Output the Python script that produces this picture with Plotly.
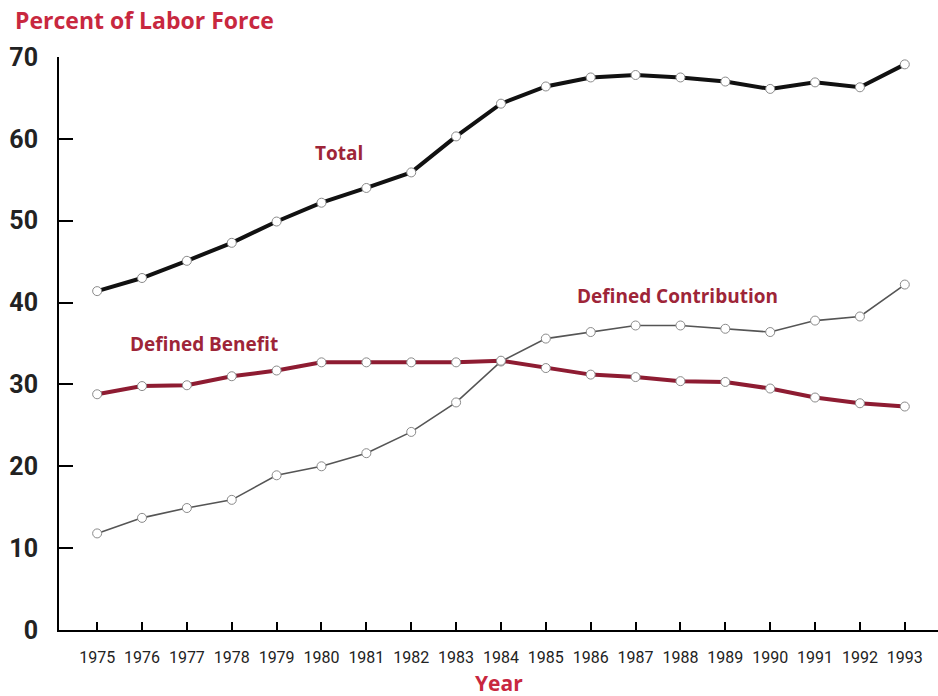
import plotly.graph_objects as go

years = list(range(1975, 1994))
total = [41.4, 43.0, 45.1, 47.3, 49.9, 52.2, 54.0, 55.9, 60.3, 64.3, 66.4, 67.5, 67.8, 67.5, 67.0, 66.1, 66.9, 66.3, 69.1]
defined_benefit = [28.8, 29.8, 29.9, 31.0, 31.7, 32.7, 32.7, 32.7, 32.7, 32.9, 32.0, 31.2, 30.9, 30.4, 30.3, 29.5, 28.4, 27.7, 27.3]
defined_contribution = [11.8, 13.7, 14.9, 15.9, 18.9, 20.0, 21.6, 24.2, 27.8, 32.8, 35.6, 36.4, 37.2, 37.2, 36.8, 36.4, 37.8, 38.3, 42.2]
y_ticks = [0, 10, 20, 30, 40, 50, 60, 70]

RED = "#c8283f"
DARKRED = "#9e2538"
LABEL_FONT = "Open Sans"

fig = go.Figure()

marker = dict(symbol="circle", size=9, color="white", line=dict(color="#8a8a8a", width=1))

fig.add_trace(go.Scatter(x=years, y=defined_contribution, mode="lines+markers",
                         line=dict(color="#555555", width=1.6), marker=marker,
                         name="Defined Contribution"))
fig.add_trace(go.Scatter(x=years, y=defined_benefit, mode="lines+markers",
                         line=dict(color="#8e1c32", width=4), marker=marker,
                         name="Defined Benefit"))
fig.add_trace(go.Scatter(x=years, y=total, mode="lines+markers",
                         line=dict(color="#111111", width=4), marker=marker,
                         name="Total"))

fig.update_layout(
    width=938, height=696,
    margin=dict(l=59, r=0, t=57, b=66),
    paper_bgcolor="white", plot_bgcolor="white",
    showlegend=False,
    font=dict(family=LABEL_FONT, color="#111111"),
    xaxis=dict(range=[1974.15, 1993.74], tickmode="array", tickvals=years,
               ticktext=[str(y) for y in years], tickangle=0,
               showgrid=False, zeroline=False, showline=True, linecolor="black", linewidth=2,
               ticks="inside", ticklen=8, tickwidth=1.5, tickcolor="black",
               tickfont=dict(family="Roboto", size=16, color="#222"),
               ticklabelstandoff=12, fixedrange=True),
    yaxis=dict(range=[0, 70], tickmode="array", tickvals=y_ticks,
               showgrid=False, zeroline=False, showline=True, linecolor="black", linewidth=2,
               ticks="inside", ticklen=14, tickwidth=2, tickcolor="black",
               tickfont=dict(family="Roboto", size=25, color="#222", weight="bold"),
               ticklabelstandoff=14, fixedrange=True),
    annotations=[
        dict(text="<b>Percent of Labor Force</b>", xref="paper", yref="paper",
             x=-0.052, y=1.0, yshift=37, xanchor="left", yanchor="middle", showarrow=False,
             font=dict(family=LABEL_FONT, size=23, color=RED)),
        dict(text="<b>Year</b>", xref="paper", yref="paper", x=0.5, y=0, yshift=-53,
             xanchor="center", yanchor="middle", showarrow=False,
             font=dict(family=LABEL_FONT, size=21, color=RED)),
        dict(text="<b>Total</b>", xref="x", yref="y", x=1980.4, y=58.3, showarrow=False,
             font=dict(family=LABEL_FONT, size=19, color=DARKRED)),
        dict(text="<b>Defined Benefit</b>", xref="x", yref="y", x=1977.38, y=34.9, showarrow=False,
             font=dict(family=LABEL_FONT, size=19, color=DARKRED)),
        dict(text="<b>Defined Contribution</b>", xref="x", yref="y", x=1987.93, y=40.8, showarrow=False,
             font=dict(family=LABEL_FONT, size=19, color=DARKRED)),
    ],
)

fig.write_html("out.html")
